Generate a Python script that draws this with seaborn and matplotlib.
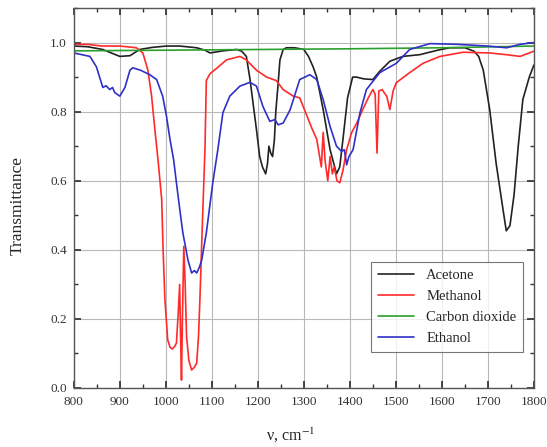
import numpy as np
import pandas as pd
import matplotlib
matplotlib.use('Agg')
import matplotlib.pyplot as plt
from matplotlib.ticker import MultipleLocator
import seaborn as sns

sns.set_theme(style='ticks')
plt.rcParams['font.family'] = ['Liberation Serif', 'DejaVu Serif']
plt.rcParams['mathtext.fontset'] = 'stix'

# Spectra (wavenumber, transmittance)
acetone_x = [800, 830, 863, 885, 900, 922, 943, 970, 1001, 1030, 1067, 1085, 1096, 1124,
             1154, 1165, 1175, 1183, 1190, 1197, 1204, 1210, 1217, 1221, 1224, 1228, 1232,
             1236, 1239, 1244, 1248, 1255, 1262, 1280, 1300, 1310, 1320, 1328, 1342, 1357,
             1365, 1371, 1378, 1385, 1395, 1406, 1415, 1430, 1450, 1465, 1487, 1515, 1552,
             1591, 1617, 1650, 1670, 1680, 1690, 1704, 1718, 1733, 1740, 1748, 1757, 1766,
             1776, 1790, 1800]
acetone_y = [0.99, 0.988, 0.98, 0.968, 0.96, 0.962, 0.98, 0.986, 0.99, 0.99, 0.985, 0.978,
             0.97, 0.976, 0.98, 0.975, 0.96, 0.893, 0.82, 0.748, 0.67, 0.64, 0.62, 0.65, 0.70,
             0.68, 0.67, 0.72, 0.80, 0.88, 0.95, 0.98, 0.985, 0.985, 0.98, 0.96, 0.93, 0.90,
             0.806, 0.69, 0.65, 0.62, 0.64, 0.72, 0.84, 0.90, 0.90, 0.895, 0.893, 0.917, 0.946,
             0.96, 0.965, 0.978, 0.985, 0.985, 0.975, 0.96, 0.92, 0.806, 0.65, 0.516, 0.455,
             0.47, 0.56, 0.70, 0.835, 0.90, 0.935]

methanol_x = [800, 830, 860, 900, 936, 950, 961, 969, 976, 983, 991, 994, 998, 1004, 1009,
              1014, 1019, 1023, 1027, 1030, 1032, 1034, 1036, 1039, 1042, 1045, 1050, 1056,
              1062, 1067, 1071, 1074, 1080, 1085, 1088, 1096, 1110, 1132, 1161, 1175, 1197,
              1219, 1240, 1255, 1277, 1291, 1306, 1318, 1328, 1333, 1338, 1342, 1346, 1352,
              1357, 1362, 1366, 1372, 1378, 1385, 1393, 1404, 1415, 1428, 1440, 1450, 1455,
              1459, 1463, 1470, 1480, 1487, 1494, 1501, 1530, 1559, 1596, 1646, 1704, 1740,
              1770, 1800]
methanol_y = [0.995, 0.995, 0.99, 0.99, 0.985, 0.97, 0.92, 0.845, 0.75, 0.66, 0.545, 0.40,
              0.255, 0.14, 0.118, 0.113, 0.12, 0.13, 0.22, 0.30, 0.15, 0.023, 0.20, 0.41, 0.30,
              0.15, 0.08, 0.052, 0.06, 0.072, 0.15, 0.255, 0.50, 0.69, 0.89, 0.91, 0.925, 0.95,
              0.96, 0.95, 0.92, 0.90, 0.89, 0.864, 0.845, 0.84, 0.79, 0.75, 0.72, 0.68, 0.64,
              0.74, 0.66, 0.60, 0.67, 0.62, 0.64, 0.60, 0.594, 0.63, 0.69, 0.74, 0.767, 0.806,
              0.84, 0.864, 0.85, 0.68, 0.86, 0.864, 0.845, 0.806, 0.86, 0.884, 0.913, 0.94,
              0.96, 0.972, 0.97, 0.965, 0.96, 0.975]

co2_x = [800, 1000, 1200, 1400, 1600, 1800]
co2_y = [0.976, 0.978, 0.980, 0.982, 0.985, 0.99]

ethanol_x = [800, 835, 849, 856, 863, 870, 878, 884, 889, 900, 911, 922, 928, 945, 965, 980,
             993, 1001, 1009, 1017, 1023, 1030, 1037, 1048, 1056, 1062, 1067, 1073, 1078,
             1088, 1102, 1113, 1124, 1139, 1161, 1183, 1197, 1211, 1226, 1237, 1244, 1255,
             1270, 1291, 1313, 1328, 1342, 1357, 1371, 1382, 1388, 1393, 1398, 1407, 1422,
             1436, 1465, 1501, 1530, 1574, 1632, 1700, 1741, 1770, 1800]
ethanol_y = [0.97, 0.96, 0.93, 0.90, 0.87, 0.875, 0.864, 0.87, 0.855, 0.845, 0.87, 0.92,
             0.927, 0.92, 0.907, 0.893, 0.845, 0.79, 0.72, 0.66, 0.594, 0.52, 0.449, 0.371,
             0.333, 0.34, 0.333, 0.35, 0.371, 0.449, 0.594, 0.69, 0.797, 0.845, 0.874, 0.885,
             0.874, 0.815, 0.772, 0.777, 0.762, 0.767, 0.805, 0.893, 0.907, 0.893, 0.835,
             0.757, 0.70, 0.685, 0.69, 0.646, 0.67, 0.69, 0.797, 0.864, 0.913, 0.94, 0.98,
             0.997, 0.995, 0.99, 0.985, 0.995, 1.0]

series = [('Acetone', acetone_x, acetone_y, '#222222'),
          ('Methanol', methanol_x, methanol_y, '#ff2a2a'),
          ('Carbon dioxide', co2_x, co2_y, '#2ca02c'),
          ('Ethanol', ethanol_x, ethanol_y, '#3030c8')]

fig = plt.figure(figsize=(5.47, 4.47), dpi=100)
ax = fig.add_axes([0.135, 0.132, 0.841, 0.850])

for name, xs, ys, col in series:
    df = pd.DataFrame({'nu': xs, 'T': ys})
    sns.lineplot(data=df, x='nu', y='T', ax=ax, color=col, lw=1.2,
                 label=name, estimator=None, sort=False)

ax.set_xlim(800, 1800)
ax.set_ylim(0, 1.1)
ax.set_yticks([0.0, 0.2, 0.4, 0.6, 0.8, 1.0])
ax.xaxis.set_major_locator(MultipleLocator(100))
ax.xaxis.set_minor_locator(MultipleLocator(50))
ax.yaxis.set_minor_locator(MultipleLocator(0.1))
ax.grid(True, which='major', color='#b8b8b8', lw=0.8)
ax.tick_params(which='both', direction='in', top=True, right=True,
               labelsize=9.5, color='#333333', labelcolor='#333333')
ax.tick_params(which='major', length=5)
ax.tick_params(axis='x', pad=6)
ax.tick_params(axis='y', pad=5)
ax.tick_params(which='minor', length=3)
for s in ax.spines.values():
    s.set_color('#555555')
    s.set_linewidth(1.0)

ax.set_xlabel('ν, cm$^{-1}$', fontsize=11.5)
ax.set_ylabel('Transmittance', fontsize=12.5)
ax.xaxis.set_label_coords(0.472, -0.10)
ax.yaxis.set_label_coords(-0.104, 0.48)

leg = ax.legend(loc='lower right', bbox_to_anchor=(0.976, 0.095), borderaxespad=0,
                fontsize=10.5, frameon=True, fancybox=False, edgecolor='#555555',
                handlelength=2.5, borderpad=0.45, labelspacing=0.55)
leg.get_frame().set_linewidth(0.8)

fig.savefig('out.png', dpi=100)
